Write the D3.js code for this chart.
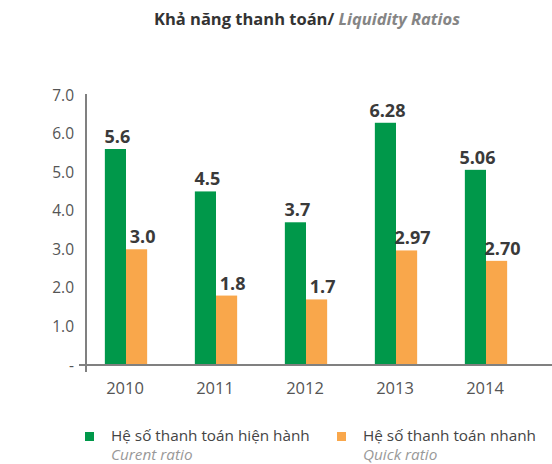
<!DOCTYPE html>
<html>
<head>
<meta charset="utf-8">
<script src="https://cdn.jsdelivr.net/npm/d3@7"></script>
<style>
  body { margin: 0; background: #fff; }
  text { font-family: "Open Sans", sans-serif; }
</style>
</head>
<body>
<div id="chart"></div>
<script>
var years = ["2010", "2011", "2012", "2013", "2014"];
var currentRatio = [5.6, 4.5, 3.7, 6.28, 5.06];
var quickRatio = [3.0, 1.8, 1.7, 2.97, 2.70];
var currentLabels = ["5.6", "4.5", "3.7", "6.28", "5.06"];
var quickLabels = ["3.0", "1.8", "1.7", "2.97", "2.70"];
var yTicks = [0, 1, 2, 3, 4, 5, 6, 7];
var seriesNames = ["current", "quick"];
var legendVi = ["Hệ số thanh toán hiện hành", "Hệ số thanh toán nhanh"];
var legendEn = ["Curent ratio", "Quick ratio"];

var W = 552, H = 464;
var green = "#00984a", orange = "#f9a74b", axisGray = "#808080";

var svg = d3.select("#chart").append("svg")
    .attr("width", W)
    .attr("height", H);

// title
var title = svg.append("text")
    .attr("x", 307)
    .attr("y", 25)
    .attr("text-anchor", "middle")
    .style("font-size", "16.5px")
    .style("font-weight", "bold");
title.append("tspan").attr("fill", "#333").text("Khả năng thanh toán/ ");
title.append("tspan").attr("fill", "#858585").style("font-style", "italic").text("Liquidity Ratios");

var y = d3.scaleLinear().domain([0, 7]).range([365, 95]);
var x = d3.scaleBand().domain(years).range([81, 531]).paddingInner(0.53).paddingOuter(0.265);
var xs = d3.scaleBand().domain(seriesNames).range([0, x.bandwidth()]);

// y tick labels
svg.selectAll("text.ytick")
    .data(yTicks)
    .enter()
    .append("text")
    .attr("class", "ytick")
    .attr("x", 74)
    .attr("y", function(d){ return y(d) + 5.5; })
    .attr("text-anchor", "end")
    .attr("fill", "#555")
    .style("font-size", "15.5px")
    .text(function(d){ return d == 0 ? "-" : d.toFixed(1); });

// bars
var rows = years.map(function(yr, i){
    return {year: yr, current: currentRatio[i], quick: quickRatio[i], cl: currentLabels[i], ql: quickLabels[i]};
});

var groups = svg.selectAll("g.year")
    .data(rows)
    .enter()
    .append("g")
    .attr("class", "year")
    .attr("transform", function(d){ return "translate(" + x(d.year) + ",0)"; });

groups.append("rect")
    .attr("x", xs("current"))
    .attr("width", xs.bandwidth())
    .attr("y", function(d){ return y(d.current); })
    .attr("height", function(d){ return y(0) - y(d.current); })
    .attr("fill", green);

groups.append("rect")
    .attr("x", xs("quick"))
    .attr("width", xs.bandwidth())
    .attr("y", function(d){ return y(d.quick); })
    .attr("height", function(d){ return y(0) - y(d.quick); })
    .attr("fill", orange);

groups.append("text")
    .attr("x", xs("current") + xs.bandwidth()/2 + 2)
    .attr("y", function(d){ return y(d.current) - 6; })
    .attr("text-anchor", "middle")
    .attr("fill", "#3a3a3a")
    .style("font-size", "18px")
    .style("font-weight", "bold")
    .text(function(d){ return d.cl; });

groups.append("text")
    .attr("x", xs("quick") + xs.bandwidth()/2 + 6)
    .attr("y", function(d){ return y(d.quick) - 6; })
    .attr("text-anchor", "middle")
    .attr("fill", "#3a3a3a")
    .style("font-size", "18px")
    .style("font-weight", "bold")
    .text(function(d){ return d.ql; });

// axes lines
svg.append("line")
    .attr("x1", 86).attr("x2", 86)
    .attr("y1", 94).attr("y2", 372)
    .style("stroke", axisGray).style("stroke-width", 2);
svg.append("line")
    .attr("x1", 79).attr("x2", 552)
    .attr("y1", y(0)).attr("y2", y(0))
    .style("stroke", axisGray).style("stroke-width", 2);

// year labels
svg.selectAll("text.xtick")
    .data(years)
    .enter()
    .append("text")
    .attr("class", "xtick")
    .attr("x", function(d){ return x(d) + x.bandwidth()/2 - 1; })
    .attr("y", 394)
    .attr("text-anchor", "middle")
    .attr("fill", "#555")
    .style("font-size", "16.5px")
    .text(function(d){ return d; });

// legend
var legendX = [85, 337];
var legendColors = [green, orange];
var lg = svg.selectAll("g.legend")
    .data(legendVi)
    .enter()
    .append("g")
    .attr("class", "legend")
    .attr("transform", function(d, i){ return "translate(" + legendX[i] + ",0)"; });

lg.append("rect")
    .attr("x", 0).attr("y", 432)
    .attr("width", 9).attr("height", 9)
    .attr("fill", function(d, i){ return legendColors[i]; });

lg.append("text")
    .attr("x", 26).attr("y", 441)
    .attr("fill", "#444")
    .style("font-size", "15.3px")
    .text(function(d){ return d; });

lg.append("text")
    .attr("x", 26).attr("y", 460)
    .attr("fill", "#999")
    .style("font-size", "15.3px")
    .style("font-style", "italic")
    .text(function(d, i){ return legendEn[i]; });
</script>
</body>
</html>
